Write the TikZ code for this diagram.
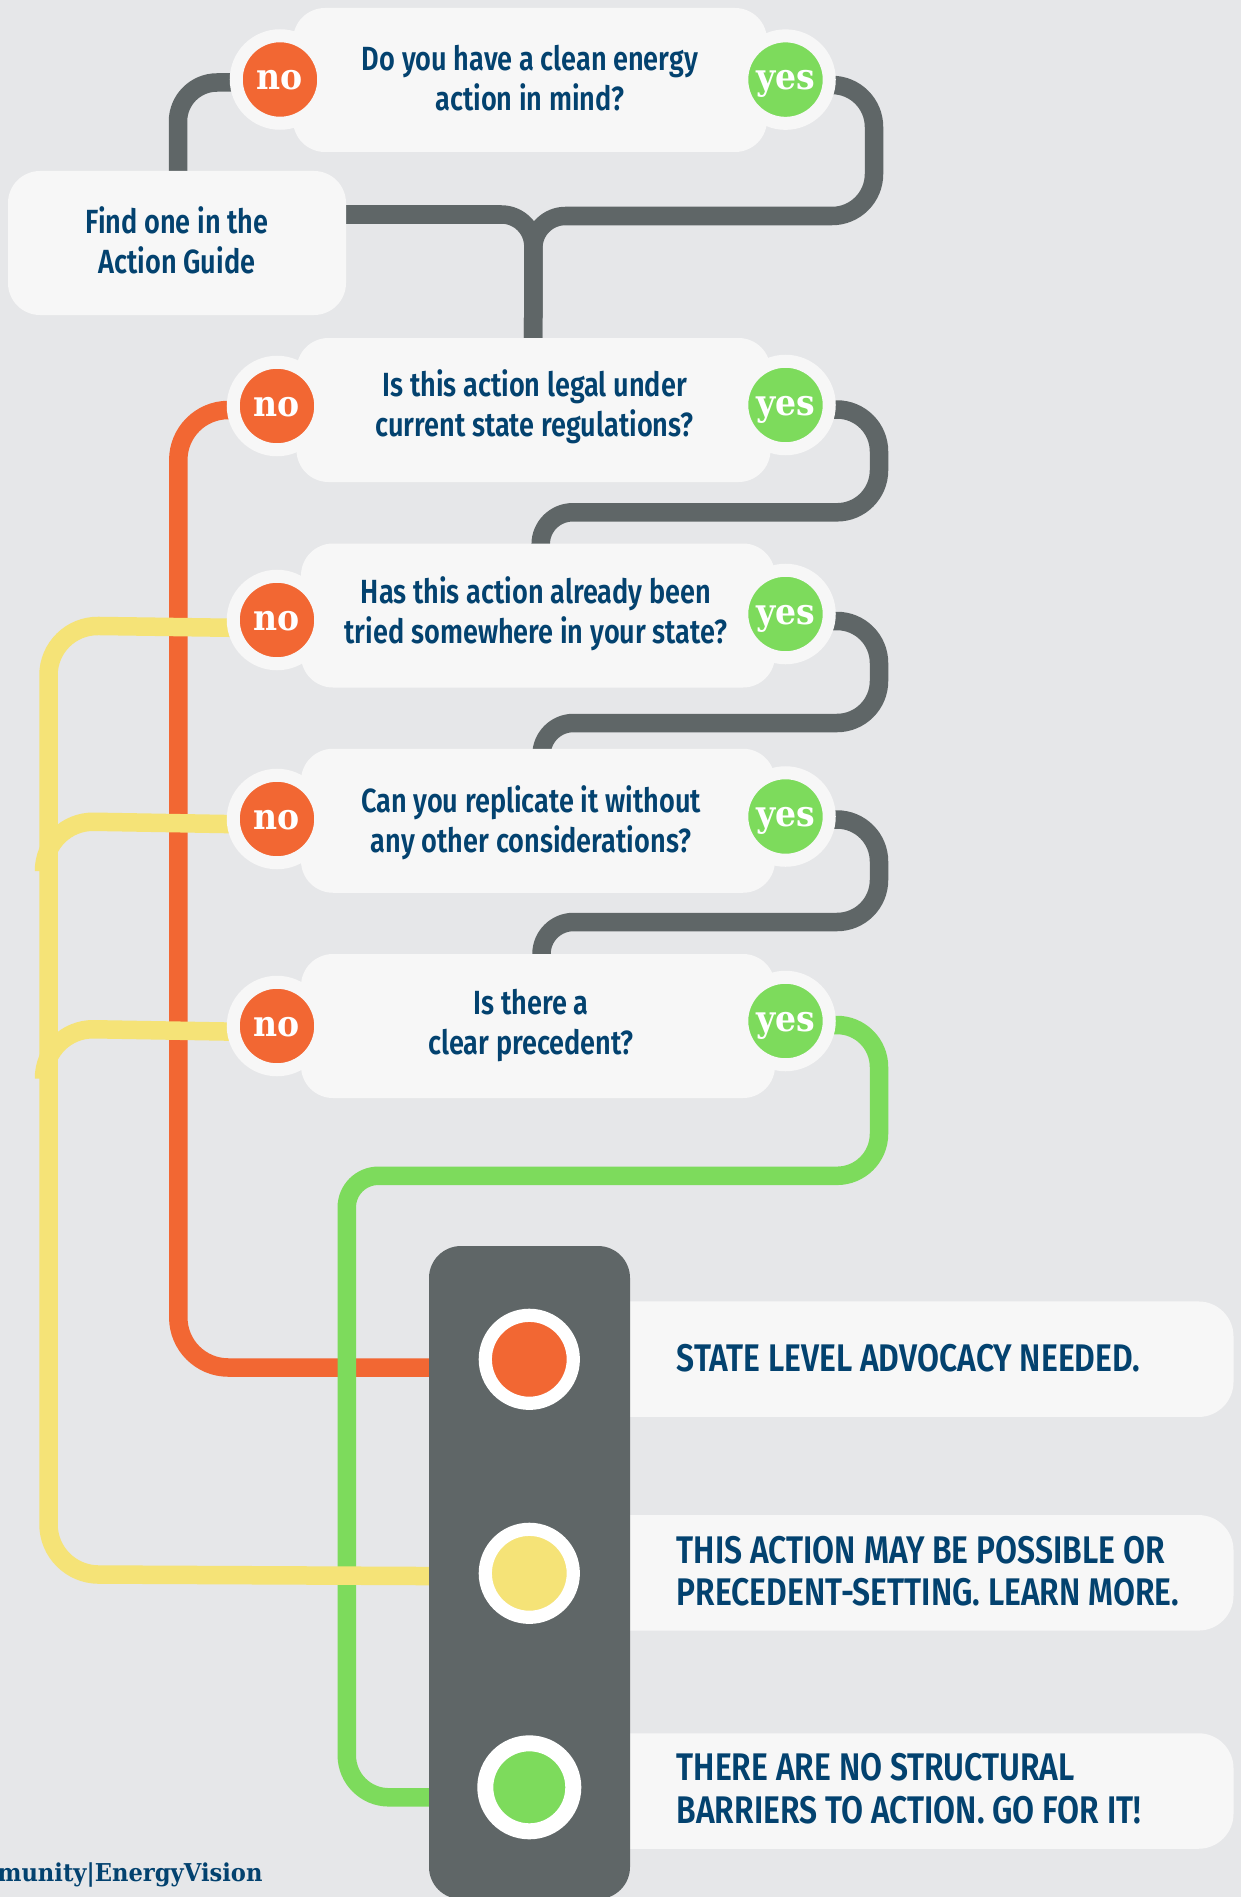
\documentclass[tikz,border=0pt]{standalone}
\usepackage{fontspec}
\usetikzlibrary{positioning, calc}
\newfontfamily\qfont[FakeStretch=0.81]{Fira Sans SemiBold}
\newfontfamily\rfont[FakeStretch=0.828]{Fira Sans SemiBold}
\newfontfamily\slabfont[FakeStretch=0.92]{DejaVu Serif Bold}
\definecolor{pagebg}{HTML}{E6E7E9}
\definecolor{boxbg}{HTML}{F7F7F7}
\definecolor{slate}{HTML}{5F6667}
\definecolor{noorange}{HTML}{F26733}
\definecolor{yesgreen}{HTML}{7DDB5C}
\definecolor{maybeyellow}{HTML}{F5E377}
\definecolor{navy}{HTML}{03426F}
\pgfdeclarelayer{lines}
\pgfsetlayers{lines,main}
\tikzset{
  qbox/.style={fill=boxbg, rounded corners=32pt, minimum width=474pt, minimum height=144pt, inner sep=0pt, outer sep=0pt},
  rbox/.style={fill=boxbg, rounded corners=35pt, minimum width=643.5pt, minimum height=115.5pt, inner sep=0pt, outer sep=0pt},
  qtext/.style={font=\qfont\fontsize{33.5}{40}\selectfont, text=navy, align=center, anchor=south, inner sep=0pt, text depth=0pt},
  rtext/.style={font=\rfont\fontsize{38.5}{42.5}\selectfont, text=navy, align=left, anchor=south west, inner sep=0pt, text depth=0pt},
  answer/.style={circle, draw=boxbg, line width=13pt, minimum size=87.5pt, inner sep=0pt, outer sep=0pt, text=white, text height=20pt, text depth=0pt, font=\slabfont\fontsize{36}{36}\selectfont},
  noans/.style={answer, fill=noorange},
  yesans/.style={answer, fill=yesgreen},
  light/.style={circle, draw=white, line width=13.2pt, minimum size=88pt, inner sep=0pt, outer sep=0pt},
  flow/.style={line width=18.5pt, rounded corners=42pt}
}

\begin{document}
\begin{tikzpicture}[x=1pt,y=-1pt,node distance=214pt,on grid]
  \useasboundingbox (0,0) rectangle (1241,1897);
  \node[qbox] (q_1) at (530,80) {};
  \node[qbox, minimum width=338pt] (find) at (177,243) {};
  \node[qbox] (q_2) at (533.5,410) {};
  \node[qbox] (q_3) at (538,615.5) {};
  \node[qbox] (q_4) [below=205.25pt of q_3] {};
  \node[qbox] (q_5) [below=205.25pt of q_4] {};
  \node[noans] (no_1) at (280,79.5) {no};
  \node[noans] (no_2) at (277,406) {no};
  \node[noans] (no_3) at (277,620) {no};
  \node[noans] (no_4) at (277,819) {no};
  \node[noans] (no_5) at (277,1026) {no};
  \node[yesans] (yes_1) at (785.5,79.6) {yes};
  \node[yesans] (yes_2) at (785.5,405) {yes};
  \node[yesans] (yes_3) at (785.5,614) {yes};
  \node[yesans] (yes_4) at (785.5,816.5) {yes};
  \node[yesans] (yes_5) at (785.5,1021) {yes};
  \node[qtext] (t_1) at (530,111) {Do you have a clean energy\\action in mind?};
  \node[qtext] (t_f) at (177,274) {Find one in the\\Action Guide};
  \node[qtext] (t_2) at (534.6,437) {Is this action legal under\\current state regulations?};
  \node[qtext] (t_3) at (536,643.5) {Has this action already been\\tried somewhere in your state?};
  \node[qtext] (t_4) at (531,852.5) {Can you replicate it without\\any other considerations?};
  \node[qtext] (t_5) at (531,1054.5) {Is there a\\clear precedent?};
  \node[rbox] (r_1) at (911.75,1359.2) {};
  \node[rbox] (r_2) at (911.75,1572.8) {};
  \node[rbox] (r_3) at (911.75,1791) {};
  \node[fill=slate, rounded corners=32pt, minimum width=201pt, minimum height=653pt, inner sep=0pt, outer sep=0pt] (signal) at (529.5,1572.5) {};
  \node[light, fill=noorange] (l_1) at (529.3,1359.3) {};
  \node[light, fill=maybeyellow] (l_2) [below=of l_1] {};
  \node[light, fill=yesgreen, line width=16pt] (l_3) [below=of l_2] {};
  \node[rtext] (t_r1) at (676.6,1372) {STATE LEVEL ADVOCACY NEEDED.};
  \node[rtext] (t_r2) at (676.6,1606) {THIS ACTION MAY BE POSSIBLE OR\\PRECEDENT-SETTING. LEARN MORE.};
  \node[rtext] (t_r3) at (676.6,1823.5) {THERE ARE NO STRUCTURAL\\BARRIERS TO ACTION. GO FOR IT!};
  \node[font=\slabfont\fontsize{24.6}{26}\selectfont, text=navy, anchor=base east, inner sep=0pt] (logo) at (262.7,1881.7) {munity|EnergyVision};
  \begin{pgfonlayer}{lines}
    \fill[pagebg] (0,0) rectangle (1241,1897);
    \draw[flow, slate, rounded corners=39pt] ([yshift=-3pt]no_1.center) -| ([xshift=1pt]find.center);
    \draw[flow, slate] ([yshift=-5.4pt]yes_1.center) -| (874,216) [rounded corners=32pt] -- (533.4,216) -- ($(q_2.center)+(-.4,0)$);
    \draw[flow, slate, rounded corners=32pt] ([yshift=28.5pt]find.center) -- (533.4,214.5) -- ($(q_2.center)+(-.4,0)$);
    \draw[flow, slate] ([yshift=-4.5pt]yes_2.center) -| (879,512.3) [rounded corners=32pt] -| ([xshift=2.7pt]q_3.center);
    \draw[flow, slate] ([yshift=-7pt]yes_3.center) -| (879,723) [rounded corners=32pt] -| ([xshift=3.5pt]q_4.center);
    \draw[flow, slate] ([yshift=-3pt]yes_4.center) -| (879,922) [rounded corners=32pt] -| ([xshift=3.5pt]q_5.center);
    \draw[flow, noorange, rounded corners=50pt] ([yshift=-4pt]no_2.center) -| (178.3,1367.5) -- ([yshift=-8.2pt]l_1.center);
    \draw[flow, yesgreen] ([yshift=-4pt]yes_5.center) -| (879,1175.8) [rounded corners=31.5pt] -- (346.8,1175.8) [rounded corners=42pt] -- (346.8,1797.3) -- ([yshift=-10pt]l_3.center);
    \draw[flow, maybeyellow, rounded corners=50pt] ([yshift=-8.4pt]no_3.center) -- (48.5,625.3) -- (48.5,1574.3) -- ([yshift=-3.2pt]l_2.center);
    \draw[flow, maybeyellow, rounded corners=50pt] ([yshift=-5.9pt]no_4.center) -- (44,820.9) -- (44,871);
    \draw[flow, maybeyellow, rounded corners=50pt] ([yshift=-6.4pt]no_5.center) -- (44,1028.4) -- (44,1078.6);
  \end{pgfonlayer}
\end{tikzpicture}
\end{document}
